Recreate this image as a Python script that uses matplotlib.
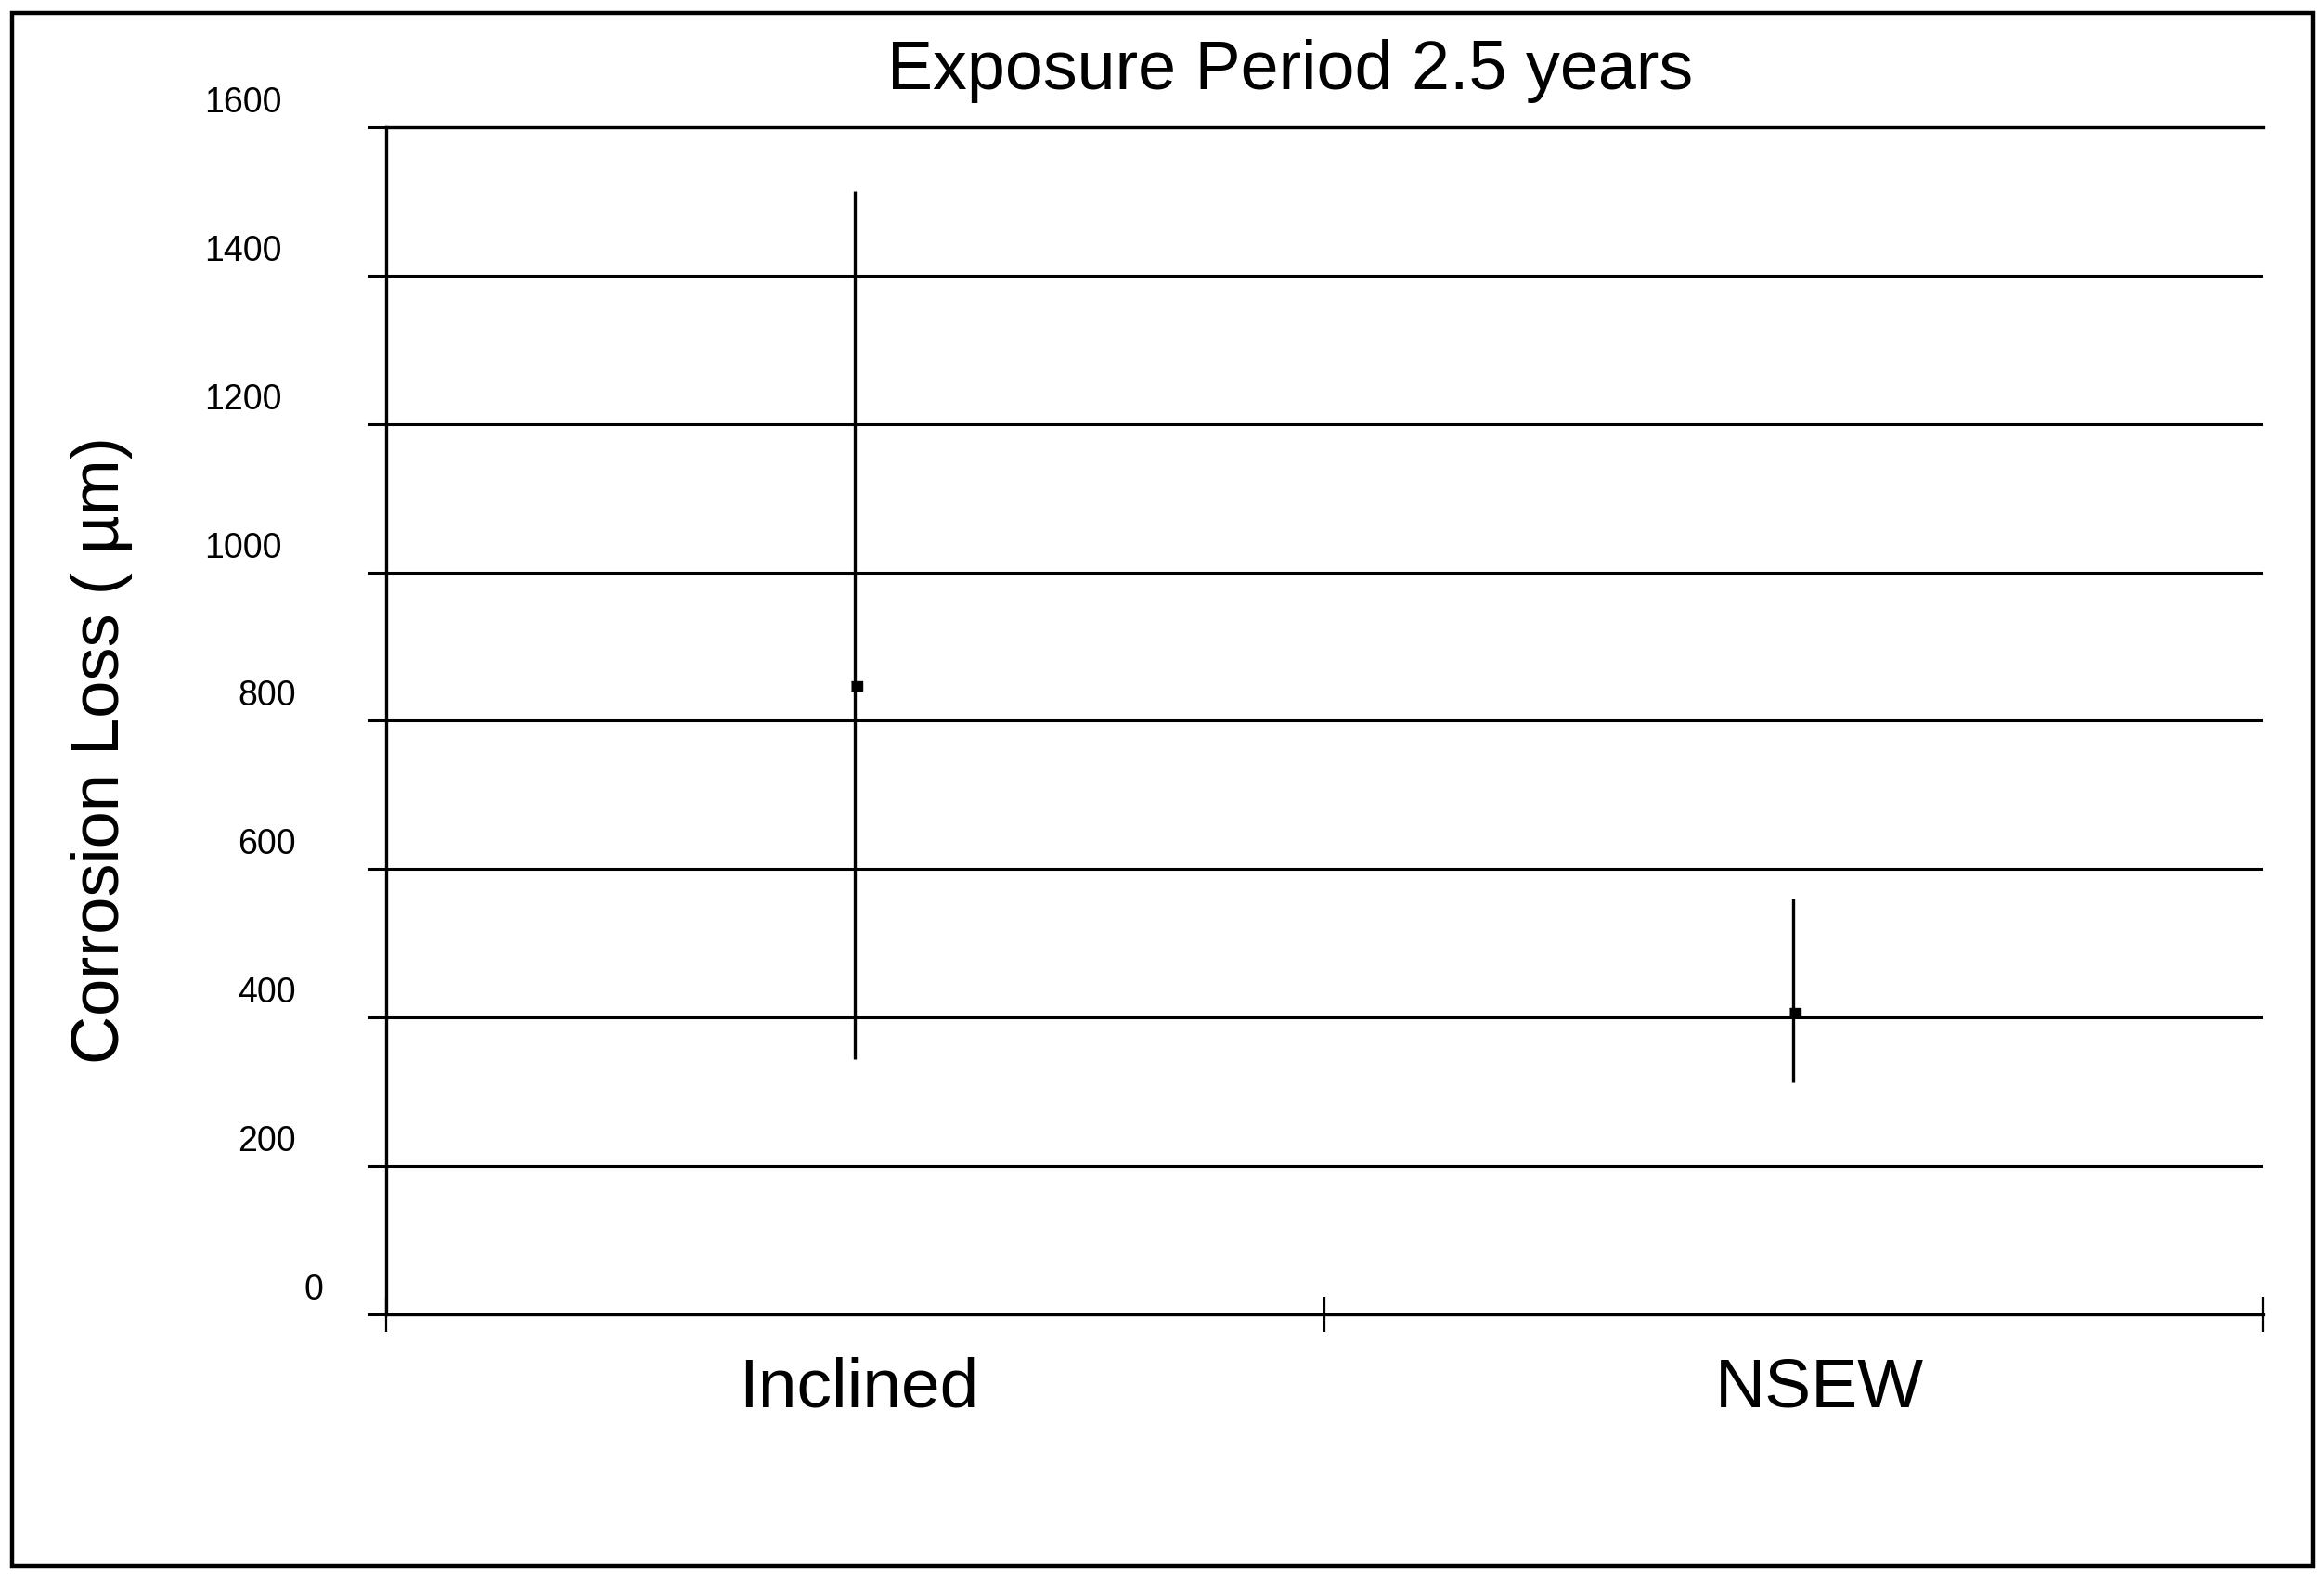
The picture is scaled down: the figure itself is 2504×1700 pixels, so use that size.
import numpy as np
import matplotlib
matplotlib.use('Agg')
import matplotlib.pyplot as plt
from matplotlib.patches import Rectangle
from matplotlib.transforms import ScaledTranslation

plt.rcParams['font.family'] = ['Liberation Sans', 'DejaVu Sans']

# data
categories = ['Inclined', 'NSEW']
mean_loss = [848, 408]
low_loss = [344, 313]
high_loss = [1513, 560]
y_ticks = [0, 200, 400, 600, 800, 1000, 1200, 1400, 1600]
y_tick_labels = ['0', '200', '400', '600', '800', '1000', '1200', '1400', '1600']

x_pos = np.arange(1, len(categories) + 1)
err_lo = np.array(mean_loss) - np.array(low_loss)
err_hi = np.array(high_loss) - np.array(mean_loss)

fig = plt.figure(figsize=(25.04, 17), dpi=100)
ax = fig.add_axes([0.1661, 0.1671, 0.8075, 0.7524])

# outer frame around the whole chart
fig.patches.append(Rectangle((0.0052, 0.0076), 0.99, 0.9842, transform=fig.transFigure,
                             fill=False, edgecolor='black', linewidth=3.2))

ax.errorbar(x_pos, mean_loss, yerr=[err_lo, err_hi], fmt='none', ecolor='black',
            elinewidth=2.4, capsize=0, zorder=3)
ax.plot(x_pos, mean_loss, linestyle='none', marker=[(-0.7, -1), (1.3, -1), (1.3, 0.6), (-0.7, 0.6)],
        markersize=11, color='black', zorder=4)

ax.set_xlim(0.5, 2.5)
ax.set_ylim(0, 1600)

# y axis: gridlines extend out as ticks
ax.set_yticks(y_ticks)
ax.set_yticklabels(y_tick_labels)
ax.grid(axis='y', color='black', linewidth=2.2)
ax.set_axisbelow(True)
ax.tick_params(axis='y', direction='out', length=14.4, width=2.2, pad=0, labelsize=27)

# label shifts (pixels) to match the original's odd placement
dx_px = [-68, -140, -140, -140, -140, -176, -176, -176, -176]
for lab, dx in zip(ax.get_yticklabels(), dx_px):
    lab.set_horizontalalignment('left')
    lab.set_transform(lab.get_transform() + ScaledTranslation(dx / 100, 30 / 100, fig.dpi_scale_trans))

# x axis: boundary ticks, labels centred on the categories
ax.set_xticks([0.5, 1.5, 2.5])
ax.set_xticklabels([])
ax.set_xticks(x_pos, minor=True)
ax.set_xticklabels(categories, minor=True)
ax.tick_params(axis='x', which='major', direction='inout', length=28, width=1.6)
ax.tick_params(axis='x', which='minor', length=0, pad=33, labelsize=54)
xdx_px = [4, 28]
for lab, dx in zip(ax.get_xticklabels(minor=True), xdx_px):
    lab.set_transform(lab.get_transform() + ScaledTranslation(dx / 100, 0, fig.dpi_scale_trans))

for side in ['left', 'bottom', 'top']:
    ax.spines[side].set_linewidth(2.4)
ax.spines['right'].set_visible(False)

ax.set_title('Exposure Period 2.5 years', fontsize=53, x=0.482, pad=29.5)
ax.set_ylabel('Corrosion Loss ( µm)', fontsize=52, va='center')
ax.yaxis.set_label_coords(-0.1513, 0.4754)

fig.savefig('out.png', dpi=100)
